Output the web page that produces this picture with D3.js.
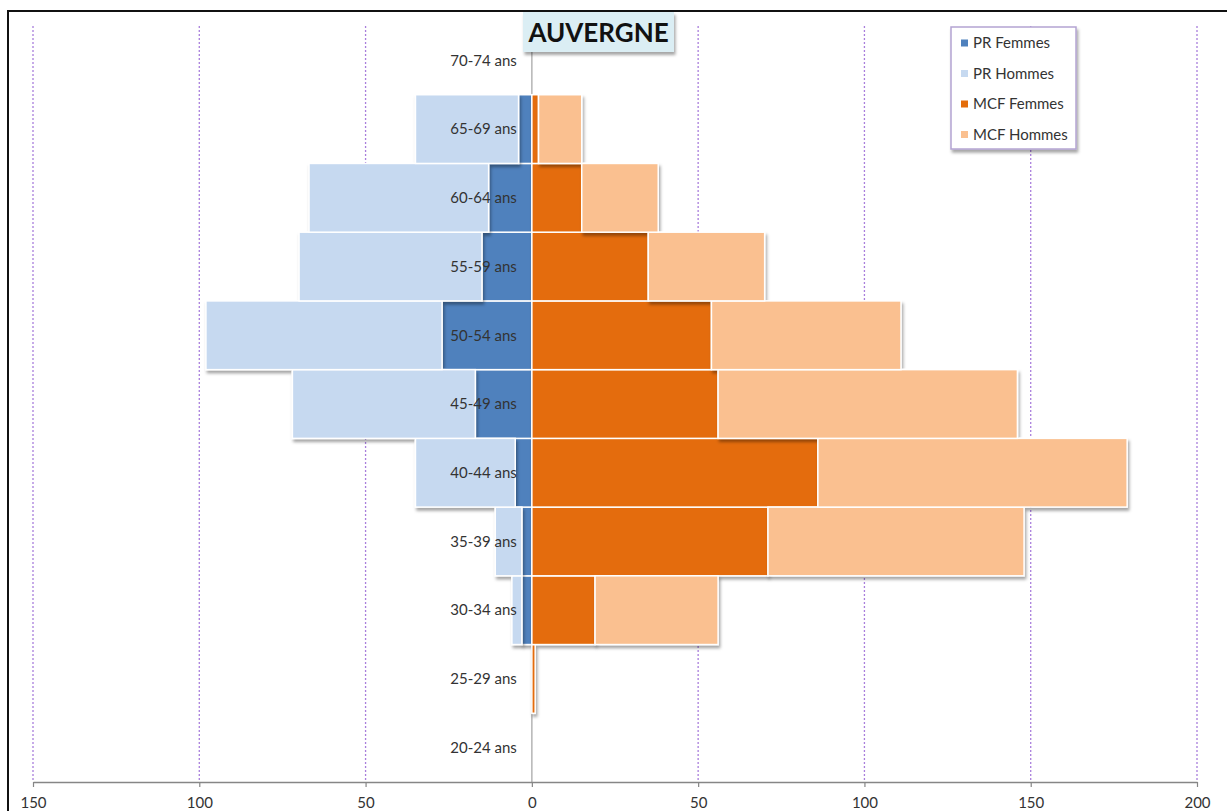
<!DOCTYPE html>
<html>
<head>
<meta charset="utf-8">
<script src="https://cdn.jsdelivr.net/npm/d3@7"></script>
<style>
  body { margin: 0; background: #fff; }
  svg { display: block; font-family: Lato, "Open Sans", sans-serif; }
</style>
</head>
<body>
<div id="chart"></div>
<script>
const width = 1227;
const height = 811;

// age groups, bottom to top
const ageGroups = ["20-24 ans", "25-29 ans", "30-34 ans", "35-39 ans", "40-44 ans",
  "45-49 ans", "50-54 ans", "55-59 ans", "60-64 ans", "65-69 ans", "70-74 ans"];
const prFemmes  = [0, 0, 3, 3, 5, 17, 27, 15, 13, 4, 0];
const prHommes  = [0, 0, 3, 8, 30, 55, 71, 55, 54, 31, 0];
const mcfFemmes = [0, 1, 19, 71, 86, 56, 54, 35, 15, 2, 0];
const mcfHommes = [0, 0, 37, 77, 93, 90, 57, 35, 23, 13, 0];
const xTicks = [-150, -100, -50, 0, 50, 100, 150, 200];
const seriesNames = ["PR Femmes", "PR Hommes", "MCF Femmes", "MCF Hommes"];
const seriesColors = ["#4f81bd", "#c6d9f0", "#e46c0a", "#fac090"];

const x = d3.scaleLinear().domain([-150, 200]).range([33, 1197]);
const y = d3.scaleBand().domain(ageGroups).range([782, 26]).padding(0);

const svg = d3.select("#chart").append("svg")
  .attr("width", width)
  .attr("height", height);

const defs = svg.append("defs");
const shadow = defs.append("filter").attr("id", "shadow")
  .attr("x", "-10%").attr("y", "-10%").attr("width", "130%").attr("height", "130%");
shadow.append("feDropShadow")
  .attr("dx", 1.5).attr("dy", 3).attr("stdDeviation", 1.5)
  .attr("flood-color", "#000").attr("flood-opacity", 0.35);

// grid
svg.append("g").selectAll("line")
  .data(xTicks.filter(d => d !== 0))
  .join("line")
  .attr("x1", d => x(d)).attr("x2", d => x(d))
  .attr("y1", 26).attr("y2", 782)
  .attr("stroke", "#a97fdc")
  .attr("stroke-width", 1.3)
  .attr("stroke-dasharray", "2,2");

// zero line
svg.append("line")
  .attr("x1", x(0)).attr("x2", x(0))
  .attr("y1", 26).attr("y2", 782)
  .attr("stroke", "#b5b5b5")
  .attr("stroke-width", 1.5);

// stacked bars
const stacks = [
  {name: seriesNames[0], color: seriesColors[0], x0: i => 0, x1: i => -prFemmes[i]},
  {name: seriesNames[1], color: seriesColors[1], x0: i => -prFemmes[i], x1: i => -prFemmes[i] - prHommes[i]},
  {name: seriesNames[2], color: seriesColors[2], x0: i => 0, x1: i => mcfFemmes[i]},
  {name: seriesNames[3], color: seriesColors[3], x0: i => mcfFemmes[i], x1: i => mcfFemmes[i] + mcfHommes[i]}
];

stacks.forEach(s => {
  svg.append("g")
    .attr("filter", "url(#shadow)")
    .selectAll("rect")
    .data(ageGroups.map((g, i) => ({g: g, a: s.x0(i), b: s.x1(i)})).filter(d => d.a !== d.b))
    .join("rect")
    .attr("x", d => x(Math.min(d.a, d.b)))
    .attr("y", d => y(d.g))
    .attr("width", d => Math.abs(x(d.b) - x(d.a)))
    .attr("height", y.bandwidth())
    .attr("fill", s.color)
    .attr("stroke", "#fff")
    .attr("stroke-width", 1.5);
});

// category labels
svg.append("g").selectAll("text")
  .data(ageGroups)
  .join("text")
  .attr("x", x(0) - 15)
  .attr("y", d => y(d) + y.bandwidth() / 2)
  .attr("dy", "0.35em")
  .attr("text-anchor", "end")
  .attr("font-size", 15)
  .attr("fill", "#333")
  .text(d => d);

// x axis
const xAxis = svg.append("g")
  .attr("transform", "translate(0,782)")
  .call(d3.axisBottom(x).tickValues(xTicks).tickFormat(d => Math.abs(d)).tickSize(5).tickPadding(10).tickSizeOuter(0));
xAxis.select(".domain").attr("stroke", "#868686").attr("stroke-width", 1.5);
xAxis.selectAll(".tick line").attr("stroke", "#868686").attr("stroke-width", 1.2);
xAxis.selectAll("text")
  .attr("font-family", "Lato, sans-serif")
  .attr("font-size", 15)
  .attr("fill", "#333");

// title
svg.append("rect")
  .attr("x", 523).attr("y", 12)
  .attr("width", 151).attr("height", 40)
  .attr("fill", "#dbeef4")
  .attr("filter", "url(#shadow)");
svg.append("text")
  .attr("x", 598.5).attr("y", 42)
  .attr("text-anchor", "middle")
  .attr("font-size", 26)
  .attr("font-weight", "bold")
  .attr("fill", "#111")
  .text("AUVERGNE");

// legend
const legend = svg.append("g").attr("transform", "translate(951,27)");
legend.append("rect")
  .attr("width", 125).attr("height", 122)
  .attr("fill", "#fff")
  .attr("stroke", "#b4a4d2")
  .attr("stroke-width", 1.5)
  .attr("filter", "url(#shadow)");
const items = legend.selectAll("g.item")
  .data(seriesNames)
  .join("g")
  .attr("class", "item")
  .attr("transform", (d, i) => "translate(10," + (16 + i * 30.5) + ")");
items.append("rect")
  .attr("x", 0).attr("y", -3.5)
  .attr("width", 7).attr("height", 7)
  .attr("fill", (d, i) => seriesColors[i]);
items.append("text")
  .attr("x", 12)
  .attr("dy", "0.35em")
  .attr("font-size", 15)
  .attr("fill", "#333")
  .text(d => d);

// outer frame
svg.append("rect")
  .attr("x", 8).attr("y", 11)
  .attr("width", 1240).attr("height", 900)
  .attr("fill", "none")
  .attr("stroke", "#111")
  .attr("stroke-width", 2);
</script>
</body>
</html>
